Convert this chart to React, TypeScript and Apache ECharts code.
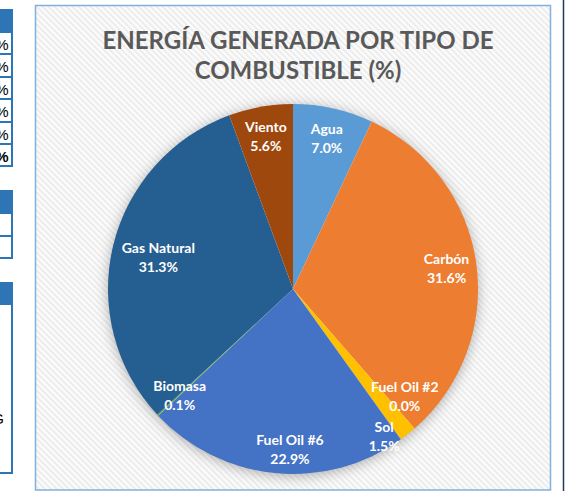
import React, { useEffect, useRef } from "react";
import * as echarts from "echarts";

// ---- data ----
const categories = ["Agua", "Carbón", "Fuel Oil #2", "Sol", "Fuel Oil #6", "Biomasa", "Gas Natural", "Viento"];
const values = [7.0, 31.6, 0.0, 1.5, 22.9, 0.1, 31.3, 5.6];
const titleText = "ENERGÍA GENERADA POR TIPO DE\nCOMBUSTIBLE (%)";

// ---- styles ----
const sliceColors = ["#5B9BD5", "#ED7D31", "#A5A5A5", "#FFC000", "#4472C4", "#70AD47", "#255E91", "#9E480E"];
const labelNudge: Record<string, [number, number]> = {
  "Gas Natural": [16, 4],
  "Fuel Oil #6": [12, 6],
  "Fuel Oil #2": [10, -10],
  "Sol": [-5, 25],
};
const FONT = "Lato, 'Liberation Sans', sans-serif";
const TABLE_BLUE = "#2E75B6";

const stripeSvg =
  "<svg xmlns='http://www.w3.org/2000/svg' width='6' height='6'>" +
  "<rect width='6' height='6' fill='#fcfcfc'/>" +
  "<path d='M-1,-1 L7,7 M-1,5 L1,7 M5,-1 L7,1' stroke='#ededed' stroke-width='2'/></svg>";
const stripeUrl = "data:image/svg+xml;charset=utf-8," + encodeURIComponent(stripeSvg);

function sheetFragments() {
  const els: any[] = [];
  const line = (x1: number, y1: number, x2: number, y2: number) => ({
    type: "line",
    shape: { x1, y1, x2, y2 },
    style: { stroke: TABLE_BLUE, lineWidth: 2 },
  });
  const header = (y1: number, y2: number) => ({
    type: "rect",
    shape: { x: 0, y: y1, width: 13, height: y2 - y1 },
    style: { fill: TABLE_BLUE },
  });
  // table 1
  els.push(header(9, 32));
  const rows1 = [32, 54, 77, 99, 122, 144, 166];
  rows1.forEach((y) => els.push(line(0, y, 13, y)));
  els.push(line(12, 32, 12, 166));
  for (let i = 0; i < rows1.length - 1; i++) {
    els.push({
      type: "text",
      style: {
        text: "%",
        x: 8.5,
        y: (rows1[i] + rows1[i + 1]) / 2 + 1,
        align: "right",
        verticalAlign: "middle",
        fill: "#000",
        font: `${i === rows1.length - 2 ? "bold " : ""}15px 'Liberation Sans', sans-serif`,
      },
    });
  }
  // table 2
  els.push(header(190, 213));
  [213, 236, 258].forEach((y) => els.push(line(0, y, 13, y)));
  els.push(line(12, 213, 12, 258));
  // table 3
  els.push(header(282, 305));
  els.push(line(0, 473, 13, 473));
  els.push(line(12, 305, 12, 473));
  els.push({
    type: "text",
    style: {
      text: "G",
      x: 4,
      y: 418,
      align: "right",
      verticalAlign: "middle",
      fill: "#000",
      font: "15px 'Liberation Sans', sans-serif",
    },
  });
  return els;
}

export default function App() {
  const ref = useRef<HTMLDivElement>(null);

  useEffect(() => {
    if (!ref.current) return;
    const chart = echarts.init(ref.current, undefined, { renderer: "svg" });
    const data = categories.map((name, i) => ({ name, value: values[i] }));

    chart.setOption({
      animation: false,
      backgroundColor: "#ffffff",
      title: {
        text: titleText,
        left: 293,
        top: 19,
        textAlign: "center",
        textStyle: {
          fontFamily: FONT,
          fontWeight: "bold",
          fontSize: 24,
          lineHeight: 30,
          color: "#595959",
        },
      },
      graphic: {
        elements: [
          {
            type: "rect",
            z: -10,
            shape: { x: 35.5, y: 5.5, width: 515, height: 484.5 },
            style: {
              fill: { image: stripeUrl, repeat: "repeat", imageWidth: 6, imageHeight: 6 },
              stroke: "#7FB1DF",
              lineWidth: 1.5,
            },
          },
          {
            type: "line",
            shape: { x1: 563.5, y1: 0, x2: 563.5, y2: 491 },
            style: { stroke: "#1F3A60", lineWidth: 1.5 },
          },
          ...sheetFragments(),
        ],
      },
      series: [
        {
          // soft shadow behind the pie
          type: "pie",
          silent: true,
          center: [293, 289],
          radius: [0, 184],
          label: { show: false },
          labelLine: { show: false },
          z: 1,
          itemStyle: {
            color: "#ffffff",
            shadowBlur: 14,
            shadowColor: "rgba(0,0,0,0.35)",
            shadowOffsetY: 2,
          },
          data: [{ name: "", value: 1 }],
        },
        {
          type: "pie",
          silent: true,
          center: [293, 289],
          radius: [0, 185],
          startAngle: 90,
          z: 2,
          label: { show: false },
          labelLine: { show: false },
          emphasis: { disabled: true },
          data: data.map((d, i) => ({ ...d, itemStyle: { color: sliceColors[i] } })),
        },
        {
          // transparent ring that carries the data labels
          type: "pie",
          silent: true,
          center: [293, 289],
          radius: [119, 185],
          startAngle: 90,
          z: 3,
          itemStyle: { color: "rgba(0,0,0,0)" },
          emphasis: { disabled: true },
          labelLine: { show: false },
          label: {
            show: true,
            position: "inside",
            color: "#ffffff",
            fontFamily: FONT,
            fontWeight: "bold",
            fontSize: 14,
            lineHeight: 19,
            formatter: (p: any) => `${p.name}\n${Number(p.value).toFixed(1)}%`,
          },
          labelLayout: (p: any) => {
            const n = labelNudge[categories[p.dataIndex]];
            return n ? { dx: n[0], dy: n[1] } : {};
          },
          data,
        },
      ],
    });
    return () => chart.dispose();
  }, []);

  return (
    <div
      ref={ref}
      style={{ position: "absolute", left: 0, top: 0, width: 565, height: 491 }}
    />
  );
}
